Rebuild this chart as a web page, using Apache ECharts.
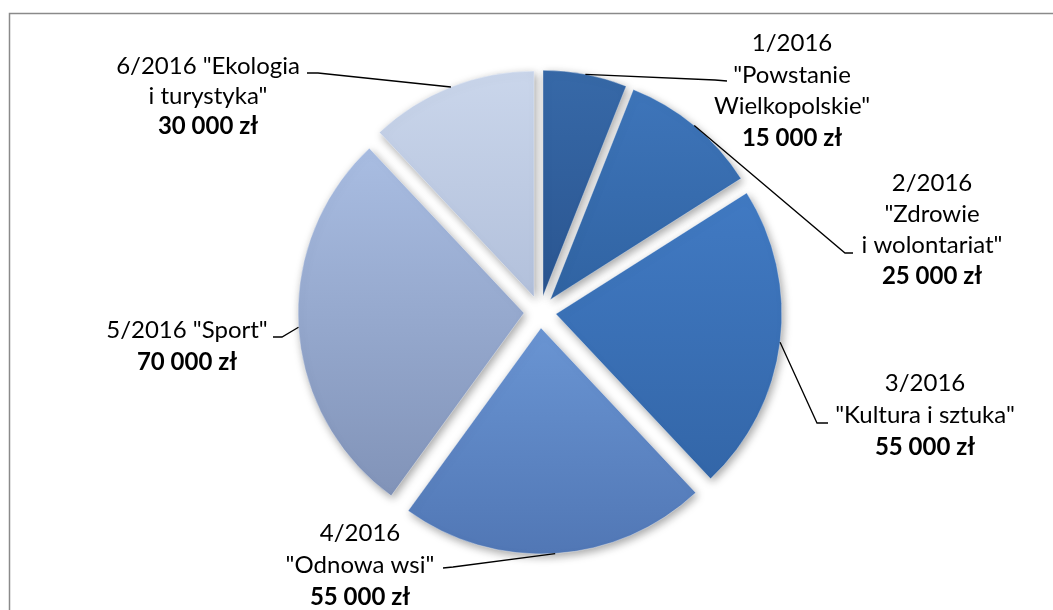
<!DOCTYPE html>
<html>
<head>
<meta charset="utf-8">
<script src="https://cdn.jsdelivr.net/npm/echarts@6/dist/echarts.min.js"></script>
<style>
html,body{margin:0;padding:0;background:#fff;}
#chart{width:1053px;height:610px;}
</style>
</head>
<body>
<div id="chart"></div>
<script>
// ---- data ----
const categories = [
  '1/2016 "Powstanie Wielkopolskie"',
  '2/2016 "Zdrowie i wolontariat"',
  '3/2016 "Kultura i sztuka"',
  '4/2016 "Odnowa wsi"',
  '5/2016 "Sport"',
  '6/2016 "Ekologia i turystyka"'
];
const values = [15000, 25000, 55000, 55000, 70000, 30000];
const labelLines = [
  ['1/2016', '"Powstanie', 'Wielkopolskie"'],
  ['2/2016', '"Zdrowie', 'i wolontariat"'],
  ['3/2016', '"Kultura i sztuka"'],
  ['4/2016', '"Odnowa wsi"'],
  ['5/2016 "Sport"'],
  ['6/2016 "Ekologia', 'i turystyka"']
];

// ---- styles / layout ----
const sliceColors = [
  ['#3769a8', '#2a5590'],
  ['#3e75ba', '#3063a2'],
  ['#417ac3', '#3366a8'],
  ['#6a95d3', '#5177b5'],
  ['#a9bde2', '#8193b8'],
  ['#cad6eb', '#b2c0db']
];
// label block: centre x, top y, line height; leader: elbow & end points
const labelPos = [
  {x: 792, y: 28, lh: 31.5, elbow: [715, 80], end: [727, 81]},
  {x: 932, y: 168, lh: 31, elbow: [845, 253], end: [853, 253]},
  {x: 925, y: 367, lh: 32, elbow: [817, 423], end: [828, 423]},
  {x: 360, y: 517, lh: 32, elbow: [453, 567], end: [443, 568]},
  {x: 187, y: 314, lh: 32, elbow: [282, 337], end: [273, 337]},
  {x: 208, y: 51, lh: 30, elbow: [318, 73], end: [307, 73]}
];
const OFFSET = 16;
const FONT = 'Lato, "Open Sans", sans-serif';

function fmtMoney(v) {
  return String(v).replace(/\B(?=(\d{3})+(?!\d))/g, ' ') + ' zł';
}

const data = categories.map((name, i) => ({
  name: name,
  value: values[i],
  selected: true,
  itemStyle: {
    color: {
      type: 'linear', x: 0, y: 0, x2: 0, y2: 1,
      colorStops: [
        {offset: 0, color: sliceColors[i][0]},
        {offset: 1, color: sliceColors[i][1]}
      ]
    }
  }
}));

const borderRect = {
  type: 'rect',
  shape: {x: 9.5, y: 13.5, width: 1100, height: 700},
  style: {fill: 'none', stroke: '#8a8a8a', lineWidth: 1.5},
  silent: true,
  z: -10
};

const chart = echarts.init(document.getElementById('chart'), null, {renderer: 'canvas'});

chart.setOption({
  animation: false,
  backgroundColor: '#ffffff',
  graphic: [borderRect],
  series: [{
    type: 'pie',
    center: [540, 312],
    radius: 226,
    startAngle: 90,
    clockwise: true,
    selectedMode: 'multiple',
    selectedOffset: OFFSET,
    avoidLabelOverlap: false,
    silent: true,
    itemStyle: {
      borderColor: 'rgba(255,255,255,0.35)',
      borderWidth: 1,
      shadowBlur: 8,
      shadowColor: 'rgba(0,0,0,0.35)',
      shadowOffsetX: 2,
      shadowOffsetY: 3
    },
    select: {itemStyle: {borderColor: 'rgba(255,255,255,0.35)', borderWidth: 1}},
    label: {show: false},
    labelLine: {show: false},
    data: data
  }]
});

// labels & leader lines placed from the pie's own computed layout
const seriesData = chart.getModel().getSeriesByIndex(0).getData();
const graphics = [borderRect];
for (let i = 0; i < values.length; i++) {
  const L = seriesData.getItemLayout(i);
  const mid = (L.startAngle + L.endAngle) / 2;
  const r = Array.isArray(L.r) ? L.r[1] : L.r;
  const sx = L.cx + Math.cos(mid) * (r + OFFSET);
  const sy = L.cy + Math.sin(mid) * (r + OFFSET);
  const lp = labelPos[i];
  const rich = {
    t: {fontFamily: FONT, fontSize: 24, lineHeight: lp.lh, fill: '#000', align: 'center'},
    b: {fontFamily: FONT, fontSize: 24, lineHeight: lp.lh, fill: '#000', fontWeight: 'bold', align: 'center'}
  };
  graphics.push({
    type: 'polyline',
    silent: true,
    shape: {points: [[sx, sy], lp.elbow, lp.end]},
    style: {stroke: '#000', lineWidth: 1.3, fill: null},
    z: 10
  });
  const txt = labelLines[i].map(s => '{t|' + s + '}')
    .concat(['{b|' + fmtMoney(values[i]) + '}']).join('\n');
  graphics.push({
    type: 'text',
    silent: true,
    x: lp.x,
    y: lp.y,
    style: {
      text: txt,
      rich: rich,
      font: '24px ' + FONT,
      fill: '#000',
      align: 'center',
      verticalAlign: 'top'
    },
    z: 10
  });
}
chart.setOption({graphic: graphics});
</script>
</body>
</html>
